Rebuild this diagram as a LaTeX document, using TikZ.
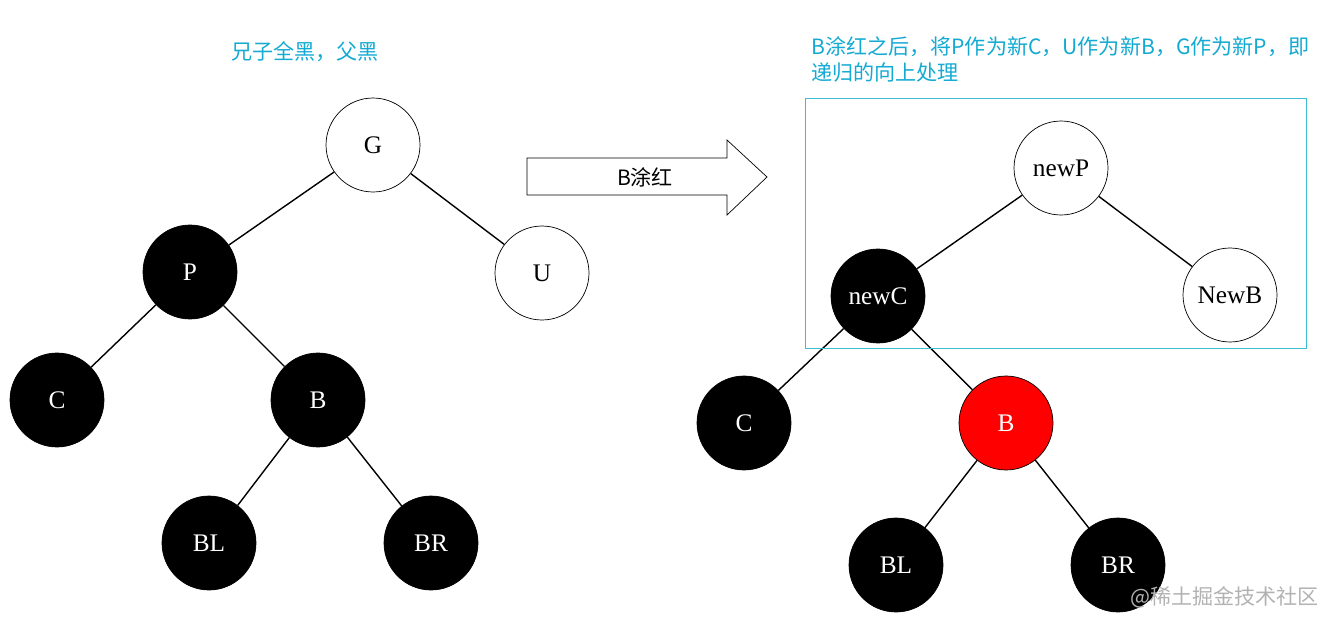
\documentclass[tikz,border=0pt]{standalone}
\usepackage{fontspec}
\setmainfont{Liberation Serif}
\newfontfamily\cjk{Noto Sans CJK SC}
\usetikzlibrary{positioning}
\definecolor{capcyan}{RGB}{20,170,210}
\definecolor{boxcyan}{RGB}{60,190,210}
\begin{document}
\begin{tikzpicture}[x=0.02cm,y=-0.02cm,
    rb/.style={circle,draw,minimum size=1.88cm,font=\Large},
    blk/.style={rb,fill=black,text=white},
    wht/.style={rb,fill=white},
    rednode/.style={rb,fill=red,text=white},
    captxt/.style={text=capcyan,font=\cjk\large,anchor=west}]
  \useasboundingbox (0,0) rectangle (1331,625);
  % left tree
  \node[wht] (G)  at (373,145) {G};
  \node[blk] (P)  at (190,272) {P};
  \node[wht] (U)  at (542,273) {U};
  \node[blk] (C)  at (57,400)  {C};
  \node[blk] (B)  at (318,400) {B};
  \node[blk] (BL) at (209,543) {BL};
  \node[blk] (BR) at (431,543) {BR};
  \draw[thick] (G) -- (P) (G) -- (U) (P) -- (C) (P) -- (B) (B) -- (BL) (B) -- (BR);
  \node[captxt] (t1) at (225,52) {兄子全黑，父黑};
  % arrow
  \draw (527,158) -- (727,158) -- (727,140) -- (767,177) -- (727,215) -- (727,195) -- (527,195) -- cycle;
  \node[font=\cjk\large] (lab) at (645,177) {B涂红};
  % right tree
  \node[wht] (nP) at (1061,168) {newP};
  \node[wht] (nB) at (1230,295) {NewB};
  \node[blk] (nC) at (878,296)  {newC};
  \node[blk] (C2) at (744,423)  {C};
  \node[rednode] (B2) at (1006,423) {B};
  \node[blk] (L2) at (896,565)  {BL};
  \node[blk] (R2) at (1118,565) {BR};
  \draw[thick] (nP) -- (nC) (nP) -- (nB) (nC) -- (C2) (nC) -- (B2) (B2) -- (L2) (B2) -- (R2);
  \draw[boxcyan] (805,98) rectangle (1306,348);
  \node[captxt] (t2) at (805,47) {B涂红之后，将P作为新C，U作为新B，G作为新P，即};
  \node[captxt] (t3) at (805,72) {递归的向上处理};
  \node[text=gray!60,font=\cjk\large,anchor=east] (wm) at (1325,597) {@稀土掘金技术社区};
\end{tikzpicture}
\end{document}
